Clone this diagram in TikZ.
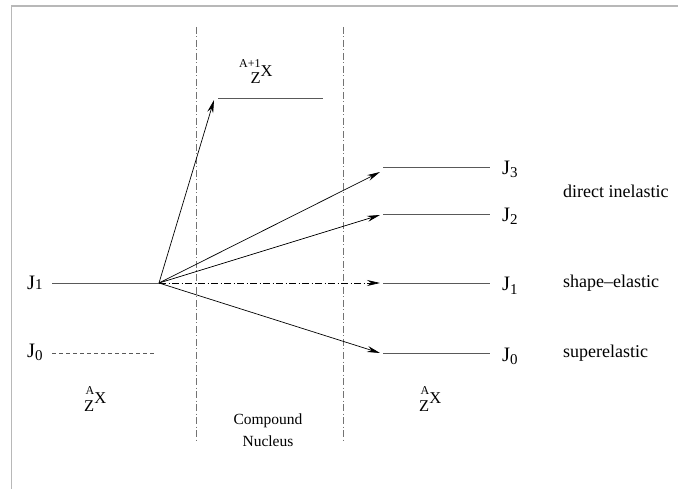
\documentclass[tikz,border=0pt]{standalone}
\usepackage{fontspec}
\setmainfont{Liberation Serif}
\usetikzlibrary{arrows.meta}
\newcommand{\jlev}[2]{J\raisebox{-#2}{\fontsize{15}{15}\selectfont #1}}
\newcommand{\nucl}[1]{\begin{tabular}[b]{@{}r@{}}{\fontsize{12}{12}\selectfont #1}\\[-1.5pt]Z\end{tabular}\raisebox{7.5pt}{X}}

\begin{document}
\begin{tikzpicture}[x=1pt,y=-1pt,
     frame/.style={draw=black!28, line width=1.6pt},
     level/.style={draw=black!65, line width=0.8pt},
     guide/.style={draw=black!55, line width=0.7pt, dash pattern=on 7pt off 2.5pt on 1pt off 2.5pt},
     arr/.style={-{Stealth[length=13pt,width=6pt]}, line width=0.7pt},
     jlbl/.style={font=\fontsize{20.5}{22}\selectfont, inner sep=0pt, anchor=base west},
     lbl/.style={font=\fontsize{18}{20}\selectfont, inner sep=0pt, anchor=west},
     iso/.style={font=\fontsize{16.5}{18}\selectfont, inner sep=0pt, anchor=base west}]
  \useasboundingbox (0,0) rectangle (678,489);
  \draw[frame] (11.5,489) -- (11.5,6) -- (678,6);
  % compound nucleus region
  \coordinate (g1t) at (196.5,27); \coordinate (g1b) at (196.5,442);
  \coordinate (g2t) at (343.5,27); \coordinate (g2b) at (343.5,442);
  \draw[guide] (g1t) -- (g1b);
  \draw[guide] (g2t) -- (g2b);
  \node[font=\fontsize{15.5}{22}\selectfont, align=center] (cn) at (268,430) {Compound\\Nucleus};
  % initial levels
  \coordinate (o) at (159,283);
  \coordinate (l1) at (52,283); \coordinate (l0w) at (52,353); \coordinate (l0e) at (155,353);
  \draw[level] (l1) -- (o);
  \draw[level, dash pattern=on 4pt off 3pt] (l0w) -- (l0e);
  \node[jlbl] (jl1) at (27,290) {\jlev{1}{0pt}};
  \node[jlbl] (jl0) at (27,357) {\jlev{0}{3pt}};
  \node[iso] (xl) at (84,411) {\nucl{A}};
  % compound level
  \coordinate (cw) at (218,98); \coordinate (ce) at (323,98);
  \draw[level] (cw) -- (ce);
  \node[iso] (xc) at (239,84) {\nucl{A+1}};
  % final levels
  \foreach \n/\y in {3/167,2/214,1/283,0/353} {
    \coordinate (r\n w) at (383,\y); \coordinate (r\n e) at (490,\y);
    \draw[level] (r\n w) -- (r\n e);
    \node[jlbl] (jr\n) at (502,\y+8) {\jlev{\n}{3pt}};
  }
  \node[iso] (xr) at (419,411) {\nucl{A}};
  \node[lbl] (di) at (563,191) {direct inelastic};
  \node[lbl] (se) at (563,283) {shape--elastic};
  \node[lbl] (su) at (563,353) {superelastic};
  % transitions
  \coordinate (tc) at (214,100);
  \coordinate (t3) at (380,172); \coordinate (t2) at (380,215);
  \coordinate (t1) at (380,283); \coordinate (t0) at (380,353);
  \draw[arr] (o) -- (tc);
  \draw[arr] (o) -- (t3);
  \draw[arr] (o) -- (t2);
  \draw[arr, dash pattern=on 7pt off 2.5pt on 1pt off 2.5pt] (o) -- (t1);
  \draw[arr] (o) -- (t0);
\end{tikzpicture}
\end{document}
